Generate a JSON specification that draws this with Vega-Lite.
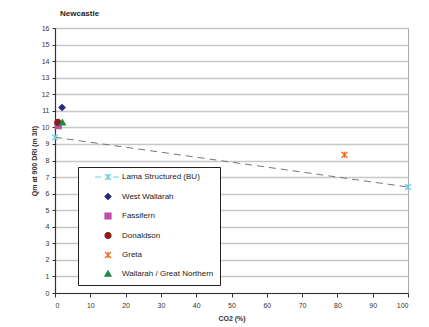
{
  "$schema": "https://vega.github.io/schema/vega-lite/v6.json",
  "width": 353,
  "height": 265,
  "autosize": {"type": "none"},
  "padding": {"left": 55, "top": 28, "right": 21, "bottom": 34},
  "background": "white",
  "title": {"text": "Newcastle", "anchor": "start", "frame": "group", "fontSize": 8, "font": "Liberation Sans", "fontWeight": "bold", "color": "#222222", "offset": 6, "dx": 5},
  "config": {
    "view": {"stroke": "#a8a8a8", "strokeWidth": 1},
    "font": "Liberation Sans",
    "legend": {"orient": "none", "legendX": 23, "legendY": 139, "title": null, "strokeColor": "#222222", "fillColor": "white", "padding": 6,
      "labelFontSize": 8, "labelFont": "Liberation Sans", "labelColor": "#222222", "symbolOffset": 20, "labelOffset": 10, "rowPadding": 7.5, "symbolSize": 36, "symbolStrokeWidth": 1.2,
      "labelExpr": "datum.label + '     '"}
  },
  "data": {
    "values": [
      {"series": "Lama Structured (BU)", "co2": 0, "qm": 9.4},
      {"series": "Lama Structured (BU)", "co2": 100, "qm": 6.4},
      {"series": "West Wallarah", "co2": 2, "qm": 11.2},
      {"series": "Fassifern", "co2": 0.9, "qm": 10.1},
      {"series": "Donaldson", "co2": 0.8, "qm": 10.3},
      {"series": "Greta", "co2": 82, "qm": 8.35},
      {"series": "Wallarah / Great Northern", "co2": 2.1, "qm": 10.3}
    ]
  },
  "encoding": {
    "x": {"field": "co2", "type": "quantitative", "title": "CO2 (%)",
      "scale": {"domain": [0, 100], "nice": false},
      "axis": {"values": [0,10,20,30,40,50,60,70,80,90,100], "grid": false, "labelFontSize": 7, "labelColor": "#333333", "tickSize": 4, "tickColor": "#333333", "domainColor": "#333333", "labelPadding": 4, "titleFontSize": 7, "titleFontWeight": "bold", "titleColor": "#333333", "titlePadding": 6}},
    "y": {"field": "qm", "type": "quantitative", "title": "Qm at 900 DRI (m 3/t)",
      "scale": {"domain": [0, 16], "nice": false},
      "axis": {"values": [0,1,2,3,4,5,6,7,8,9,10,11,12,13,14,15,16], "grid": true, "gridColor": "#c8c8c8", "gridWidth": 1.5, "labelFontSize": 7, "labelColor": "#333333", "tickSize": 3, "tickColor": "#333333", "domainColor": "#333333", "domainWidth": 1.2, "labelPadding": 3, "titleFontSize": 7, "titleFontWeight": "bold", "titleColor": "#333333", "titlePadding": 4}}
  },
  "layer": [
    {
      "transform": [{"filter": "datum.series === 'Lama Structured (BU)'"}],
      "mark": {"type": "line", "color": "#777777", "strokeDash": [7, 5], "strokeWidth": 1}
    },
    {
      "transform": [{"filter": "datum.series === 'Lama Structured (BU)'"}],
      "mark": {"type": "point", "filled": false, "size": 36, "strokeWidth": 1.2, "opacity": 1, "color": "#6ccfe3", "shape": "M-1,-1L1,1M-1,1L1,-1M0,-1V1"}
    },
    {
      "transform": [{"filter": "datum.series !== 'Lama Structured (BU)'"}],
      "mark": {"type": "point", "filled": false, "size": 36, "strokeWidth": 1.2, "opacity": 1, "fillOpacity": 1},
      "encoding": {
        "stroke": {"field": "series", "type": "nominal",
          "scale": {"domain": ["Lama Structured (BU)", "West Wallarah", "Fassifern", "Donaldson", "Greta", "Wallarah / Great Northern"],
            "range": ["#6ccfe3", "#28287e", "#c04ca6", "#8a1c1c", "#f26a22", "#1b8a3c"]}},
        "fill": {"field": "series", "type": "nominal",
          "scale": {"domain": ["Lama Structured (BU)", "West Wallarah", "Fassifern", "Donaldson", "Greta", "Wallarah / Great Northern"],
            "range": ["#6ccfe3", "#28287e", "#c04ca6", "#8a1c1c", "#f26a22", "#1b8a3c"]}},
        "shape": {"field": "series", "type": "nominal",
          "scale": {"domain": ["Lama Structured (BU)", "West Wallarah", "Fassifern", "Donaldson", "Greta", "Wallarah / Great Northern"],
            "range": ["M-4.3,0H-2.3M-1,-1L1,1M-1,1L1,-1M0,-1V1M1.7,0H3.6", "diamond", "square", "circle", "M-1,-1L1,1M-1,1L1,-1M0,-1V1", "triangle-up"]}}
      }
    }
  ]
}
